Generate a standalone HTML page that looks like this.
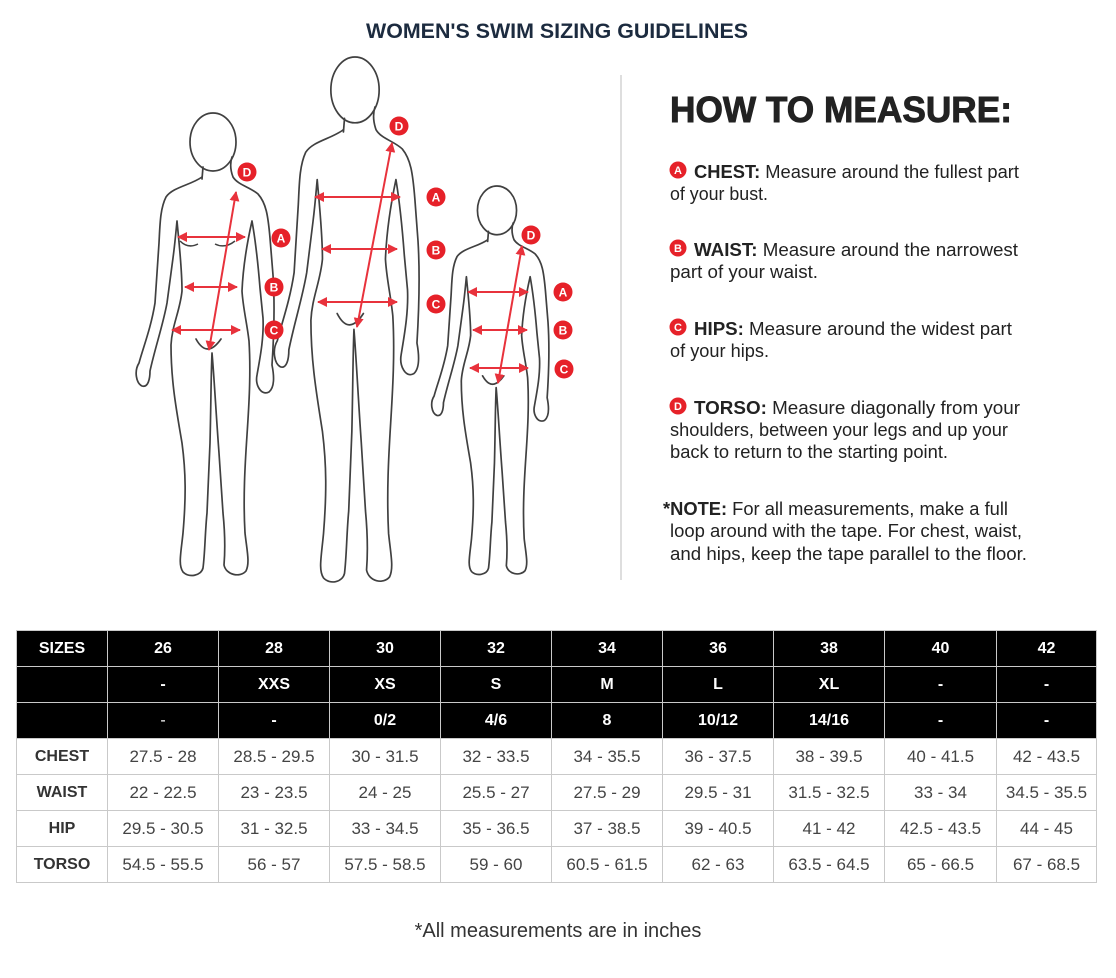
<!DOCTYPE html>
<html>
<head>
<meta charset="utf-8">
<style>
html,body{margin:0;padding:0;background:#fff;}
body{width:1116px;height:978px;position:relative;overflow:hidden;font-family:"Liberation Sans",Arial,sans-serif;}
svg.top{position:absolute;left:0;top:0;}
.tbl{position:absolute;left:16px;top:630px;width:1081px;display:grid;
grid-template-columns:90px 110px 110px 110px 110px 110px 110px 110px 111px 99px;
grid-auto-rows:35px;gap:1px;padding:1px;background:#c9c9c9;box-sizing:border-box;}
.tbl div{display:flex;align-items:center;justify-content:center;background:#fff;color:#444;font-size:17px;}
.tbl div.h{background:#000;color:#fff;font-weight:bold;font-size:16px;}
.tbl div.l{font-weight:bold;color:#333;font-size:16px;}
.foot{position:absolute;left:0;width:1116px;top:920px;text-align:center;font-size:20px;color:#333;}
</style>
</head>
<body>
<svg class="top" width="1116" height="610" viewBox="0 0 1116 610" xmlns="http://www.w3.org/2000/svg">
<defs>
<marker id="ah" viewBox="0 0 10 10" refX="9" refY="5" markerWidth="5" markerHeight="5" orient="auto-start-reverse" markerUnits="strokeWidth">
<path d="M0,0 L10,5 L0,10 z" fill="#e8323c"/>
</marker>
<g id="fig" fill="none" stroke="#404040" stroke-width="1.7" stroke-linejoin="round" stroke-linecap="round">
<ellipse cx="0" cy="29" rx="23" ry="29" vector-effect="non-scaling-stroke"/>
<path vector-effect="non-scaling-stroke" d="M -10,54 L -11,66"/>
<path vector-effect="non-scaling-stroke" d="M -11,64
C -22,72 -40,74 -47,84
C -53,96 -53,112 -54,130
L -58,190
C -62,215 -70,235 -74,250
C -79,258 -77,270 -71,273
C -65,275 -63,266 -63,258
C -58,235 -50,212 -46,190
L -40,145
C -38,130 -37,118 -36,108
C -34,130 -31,155 -31,178
C -33,198 -41,212 -42,232
C -42,270 -36,300 -31,330
C -27,360 -27,385 -30,420
C -32,440 -35,452 -30,459
C -24,465 -12,463 -10,455
C -8,440 -8,420 -6,400
L -3,330
C -2,290 -2,262 -1,240
C 1,262 3,300 6,340
L 10,400
C 12,420 12,440 11,452
C 13,462 27,465 33,458
C 37,450 34,438 32,420
C 30,385 32,352 34,322
C 36,292 38,260 36,228
C 34,210 30,195 29,178
C 30,155 34,130 39,108
C 42,125 45,150 47,175
L 50,205
C 51,225 47,245 44,262
C 42,272 48,283 56,279
C 62,274 61,262 59,252
C 61,222 62,192 60,162
L 57,125
C 55,102 53,90 45,81
C 37,74 25,72 20,64
C 17,56 17,50 19,44"/>
<path vector-effect="non-scaling-stroke" d="M -17,226 Q -6,246 8,226"/>
</g>
</defs>

<text x="557" y="38" text-anchor="middle" font-family="Liberation Sans, Arial, sans-serif" font-weight="bold" font-size="21" fill="#1c2b3f" textLength="382" lengthAdjust="spacingAndGlyphs">WOMEN'S SWIM SIZING GUIDELINES</text>

<!-- figures -->
<use href="#fig" transform="translate(213,113) scale(1,1)"/>
<path d="M -33,128 Q -25,136 -15,131 M 2,131 Q 12,136 22,128" transform="translate(213,113)" fill="none" stroke="#404040" stroke-width="1.5"/>
<use href="#fig" transform="translate(355,57) scale(1.05,1.135)"/>
<use href="#fig" transform="translate(497,186) scale(0.85,0.84)"/>

<!-- arrows -->
<g stroke="#e8323c" stroke-width="2" fill="none" marker-start="url(#ah)" marker-end="url(#ah)">
<line x1="178" y1="237" x2="245" y2="237"/>
<line x1="185" y1="287" x2="237" y2="287"/>
<line x1="172" y1="330" x2="240" y2="330"/>
<line x1="209" y1="350" x2="236" y2="192"/>
<line x1="315" y1="197" x2="400" y2="197"/>
<line x1="322" y1="249" x2="397" y2="249"/>
<line x1="318" y1="302" x2="397" y2="302"/>
<line x1="357" y1="327" x2="392" y2="143"/>
<line x1="468" y1="292" x2="528" y2="292"/>
<line x1="473" y1="330" x2="527" y2="330"/>
<line x1="470" y1="368" x2="528" y2="368"/>
<line x1="498" y1="383" x2="522" y2="246"/>
</g>

<!-- labels -->
<g font-family="Liberation Sans, Arial, sans-serif" font-weight="bold" font-size="12" fill="#fff" text-anchor="middle">
<circle cx="247" cy="172" r="9.5" fill="#e62129"/><text x="247" y="176.5">D</text>
<circle cx="281" cy="238" r="9.5" fill="#e62129"/><text x="281" y="242.5">A</text>
<circle cx="274" cy="287" r="9.5" fill="#e62129"/><text x="274" y="291.5">B</text>
<circle cx="274" cy="330" r="9.5" fill="#e62129"/><text x="274" y="334.5">C</text>
<circle cx="399" cy="126" r="9.5" fill="#e62129"/><text x="399" y="130.5">D</text>
<circle cx="436" cy="197" r="9.5" fill="#e62129"/><text x="436" y="201.5">A</text>
<circle cx="436" cy="250" r="9.5" fill="#e62129"/><text x="436" y="254.5">B</text>
<circle cx="436" cy="304" r="9.5" fill="#e62129"/><text x="436" y="308.5">C</text>
<circle cx="531" cy="235" r="9.5" fill="#e62129"/><text x="531" y="239.5">D</text>
<circle cx="563" cy="292" r="9.5" fill="#e62129"/><text x="563" y="296.5">A</text>
<circle cx="563" cy="330" r="9.5" fill="#e62129"/><text x="563" y="334.5">B</text>
<circle cx="564" cy="369" r="9.5" fill="#e62129"/><text x="564" y="373.5">C</text>
</g>

<!-- divider -->
<line x1="621" y1="75" x2="621" y2="580" stroke="#dedede" stroke-width="2"/>

<!-- how to measure panel -->
<g font-family="Liberation Sans, Arial, sans-serif" fill="#222">
<text x="670" y="122" font-size="36" font-weight="bold" stroke="#222" stroke-width="0.9" textLength="342" lengthAdjust="spacingAndGlyphs">HOW TO MEASURE:</text>
<g font-family="Liberation Sans, Arial, sans-serif" font-weight="bold" font-size="11" fill="#fff" text-anchor="middle">
<circle cx="678" cy="170" r="8.5" fill="#e62129"/><text x="678" y="174">A</text>
<circle cx="678" cy="248" r="8.5" fill="#e62129"/><text x="678" y="252">B</text>
<circle cx="678" cy="327" r="8.5" fill="#e62129"/><text x="678" y="331">C</text>
<circle cx="678" cy="406" r="8.5" fill="#e62129"/><text x="678" y="410">D</text>
</g>
<g font-size="18">
<text x="694" y="178" textLength="325" lengthAdjust="spacingAndGlyphs"><tspan font-weight="bold">CHEST:</tspan> Measure around the fullest part</text>
<text x="670" y="200" textLength="98" lengthAdjust="spacingAndGlyphs">of your bust.</text>
<text x="694" y="256" textLength="324" lengthAdjust="spacingAndGlyphs"><tspan font-weight="bold">WAIST:</tspan> Measure around the narrowest</text>
<text x="670" y="278" textLength="148" lengthAdjust="spacingAndGlyphs">part of your waist.</text>
<text x="694" y="335" textLength="318" lengthAdjust="spacingAndGlyphs"><tspan font-weight="bold">HIPS:</tspan> Measure around the widest part</text>
<text x="670" y="357" textLength="99" lengthAdjust="spacingAndGlyphs">of your hips.</text>
<text x="694" y="414" textLength="326" lengthAdjust="spacingAndGlyphs"><tspan font-weight="bold">TORSO:</tspan> Measure diagonally from your</text>
<text x="670" y="436" textLength="338" lengthAdjust="spacingAndGlyphs">shoulders, between your legs and up your</text>
<text x="670" y="458" textLength="278" lengthAdjust="spacingAndGlyphs">back to return to the starting point.</text>
<text x="663" y="515" textLength="345" lengthAdjust="spacingAndGlyphs"><tspan font-weight="bold">*NOTE:</tspan> For all measurements, make a full</text>
<text x="670" y="537" textLength="352" lengthAdjust="spacingAndGlyphs">loop around with the tape. For chest, waist,</text>
<text x="670" y="560" textLength="357" lengthAdjust="spacingAndGlyphs">and hips, keep the tape parallel to the floor.</text>
</g>
</g>
</svg>

<div class="tbl">
<div class="h">SIZES</div><div class="h">26</div><div class="h">28</div><div class="h">30</div><div class="h">32</div><div class="h">34</div><div class="h">36</div><div class="h">38</div><div class="h">40</div><div class="h">42</div>
<div class="h"></div><div class="h">-</div><div class="h">XXS</div><div class="h">XS</div><div class="h">S</div><div class="h">M</div><div class="h">L</div><div class="h">XL</div><div class="h">-</div><div class="h">-</div>
<div class="h"></div><div class="h" style="font-weight:normal">-</div><div class="h">-</div><div class="h">0/2</div><div class="h">4/6</div><div class="h">8</div><div class="h">10/12</div><div class="h">14/16</div><div class="h">-</div><div class="h">-</div>
<div class="l">CHEST</div><div>27.5 - 28</div><div>28.5 - 29.5</div><div>30 - 31.5</div><div>32 - 33.5</div><div>34 - 35.5</div><div>36 - 37.5</div><div>38 - 39.5</div><div>40 - 41.5</div><div>42 - 43.5</div>
<div class="l">WAIST</div><div>22 - 22.5</div><div>23 - 23.5</div><div>24 - 25</div><div>25.5 - 27</div><div>27.5 - 29</div><div>29.5 - 31</div><div>31.5 - 32.5</div><div>33 - 34</div><div>34.5 - 35.5</div>
<div class="l">HIP</div><div>29.5 - 30.5</div><div>31 - 32.5</div><div>33 - 34.5</div><div>35 - 36.5</div><div>37 - 38.5</div><div>39 - 40.5</div><div>41 - 42</div><div>42.5 - 43.5</div><div>44 - 45</div>
<div class="l">TORSO</div><div>54.5 - 55.5</div><div>56 - 57</div><div>57.5 - 58.5</div><div>59 - 60</div><div>60.5 - 61.5</div><div>62 - 63</div><div>63.5 - 64.5</div><div>65 - 66.5</div><div>67 - 68.5</div>
</div>

<div class="foot">*All measurements are in inches</div>
</body>
</html>
